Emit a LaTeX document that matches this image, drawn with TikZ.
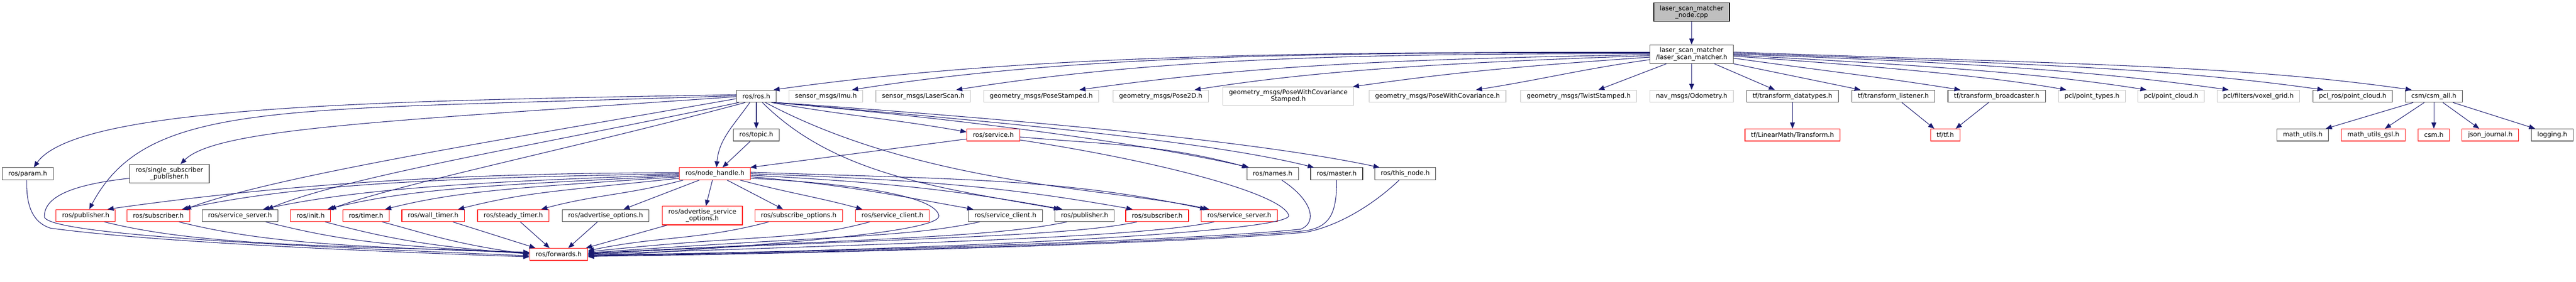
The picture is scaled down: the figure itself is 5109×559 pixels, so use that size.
\documentclass[tikz,border=0pt]{standalone}
\usepackage{fontspec}
\setmainfont{DejaVu Sans}
\usetikzlibrary{arrows.meta}
\definecolor{edgeblue}{HTML}{191970}
\definecolor{darkline}{HTML}{404040}
\definecolor{lightline}{HTML}{BFBFBF}
\newcommand{\dotfont}{\fontsize{6.35}{6.7}\selectfont}

\begin{document}
\begin{tikzpicture}[x=0.5pt,y=0.5pt,
  box/.style={draw, font=\dotfont, align=center, inner xsep=6pt,
    inner ysep=2.75pt, minimum height=12pt, line width=0.6pt},
  file/.style={box, draw=darkline},
  extfile/.style={box, draw=lightline},
  cutfile/.style={box, draw=red},
  mainfile/.style={box, draw=black, fill=lightline},
  incl/.style={edgeblue, line width=0.55pt, -{Triangle[length=6pt,width=4.75pt]}}]
  \useasboundingbox (0,0) rectangle (5109,-559);

  % files
  \node[mainfile] (root) at (3355,-24) {laser\_scan\_matcher\\\_node.cpp};
  \node[file] (lsm) at (3355,-107.5) {laser\_scan\_matcher\\/laser\_scan\_matcher.h};

  \node[file] (ros) at (1500,-191) {ros/ros.h};
  \node[extfile] (imu) at (1638,-191) {sensor\_msgs/Imu.h};
  \node[extfile] (laserscan) at (1831,-191) {sensor\_msgs/LaserScan.h};
  \node[extfile] (posestamped) at (2065,-191) {geometry\_msgs/PoseStamped.h};
  \node[extfile] (pose2d) at (2302,-191) {geometry\_msgs/Pose2D.h};
  \node[extfile] (pwcs) at (2555,-191) {geometry\_msgs/PoseWithCovariance\\Stamped.h};
  \node[extfile] (pwc) at (2851,-191) {geometry\_msgs/PoseWithCovariance.h};
  \node[extfile] (twist) at (3131,-191) {geometry\_msgs/TwistStamped.h};
  \node[extfile] (odom) at (3355,-191) {nav\_msgs/Odometry.h};
  \node[file] (tfdata) at (3555,-191) {tf/transform\_datatypes.h};
  \node[file] (tflisten) at (3755,-191) {tf/transform\_listener.h};
  \node[file] (tfbroad) at (3960,-191) {tf/transform\_broadcaster.h};
  \node[extfile] (pcltypes) at (4149,-191) {pcl/point\_types.h};
  \node[extfile] (pclcloud) at (4306,-191) {pcl/point\_cloud.h};
  \node[extfile] (voxel) at (4479,-191) {pcl/filters/voxel\_grid.h};
  \node[file] (pclros) at (4666,-191) {pcl\_ros/point\_cloud.h};
  \node[file] (csmall) at (4827,-191) {csm/csm\_all.h};

  \node[file] (topic) at (1500,-268) {ros/topic.h};
  \node[cutfile] (service) at (1970,-268) {ros/service.h};
  \node[cutfile] (tfmath) at (3555,-268) {tf/LinearMath/Transform.h};
  \node[cutfile] (tftf) at (3858,-268) {tf/tf.h};
  \node[file] (mathutils) at (4567,-268) {math\_utils.h};
  \node[cutfile] (mathgsl) at (4707,-268) {math\_utils\_gsl.h};
  \node[cutfile] (csm) at (4827,-268) {csm.h};
  \node[cutfile] (journal) at (4939,-268) {json\_journal.h};
  \node[file] (logging) at (5062,-268) {logging.h};

  \node[file] (param) at (55,-345) {ros/param.h};
  \node[file] (singlesub) at (336,-345) {ros/single\_subscriber\\\_publisher.h};
  \node[cutfile] (nodehandle) at (1418,-345) {ros/node\_handle.h};
  \node[file] (names) at (2524,-345) {ros/names.h};
  \node[file] (master) at (2651,-345) {ros/master.h};
  \node[file] (thisnode) at (2787,-345) {ros/this\_node.h};

  \node[cutfile] (pubA) at (170,-428) {ros/publisher.h};
  \node[cutfile] (subA) at (314,-428) {ros/subscriber.h};
  \node[file] (srvA) at (476,-428) {ros/service\_server.h};
  \node[cutfile] (init) at (616,-428) {ros/init.h};
  \node[cutfile] (timer) at (726,-428) {ros/timer.h};
  \node[cutfile] (walltimer) at (859,-428) {ros/wall\_timer.h};
  \node[cutfile] (steadytimer) at (1018,-428) {ros/steady\_timer.h};
  \node[file] (advopt) at (1201,-428) {ros/advertise\_options.h};
  \node[cutfile] (advsrvopt) at (1393,-428) {ros/advertise\_service\\\_options.h};
  \node[cutfile] (subopt) at (1584,-428) {ros/subscribe\_options.h};
  \node[cutfile] (cliA) at (1770,-428) {ros/service\_client.h};
  \node[file] (cliB) at (1994,-428) {ros/service\_client.h};
  \node[file] (pubB) at (2151,-428) {ros/publisher.h};
  \node[cutfile] (subB) at (2295,-428) {ros/subscriber.h};
  \node[cutfile] (srvB) at (2458,-428) {ros/service\_server.h};

  \node[cutfile] (forwards) at (1108,-505) {ros/forwards.h};

  % top two levels
  \draw[incl] (root) -- (lsm);
  \draw[incl] ([yshift=2pt]lsm.west) to[out=180,in=8,out distance=350pt,in distance=250pt] ([xshift=-3pt]ros.north east);
  \draw[incl] ([yshift=1.5pt]lsm.west) to[out=180,in=9,out distance=325pt,in distance=225pt] ([xshift=-11pt]imu.north east);
  \draw[incl] ([yshift=0.5pt]lsm.west) to[out=180,in=9,out distance=300pt,in distance=200pt] ([xshift=-14.5pt]laserscan.north east);
  \draw[incl] ([yshift=-0.5pt]lsm.west) to[out=181,in=8,out distance=250pt,in distance=175pt] ([xshift=-19.5pt]posestamped.north east);
  \draw[incl] ([yshift=-1.5pt]lsm.west) to[out=182,in=9,out distance=200pt,in distance=125pt] ([xshift=-14pt]pose2d.north east);
  \draw[incl] ([yshift=-3pt]lsm.west) to[out=184,in=8,out distance=150pt,in distance=90pt] ([xshift=-1pt]pwcs.north east);
  \draw[incl] ([yshift=-5.5pt]lsm.west) to[out=188,in=9] ([xshift=-30pt]pwc.north east);
  \draw[incl] ([xshift=-25pt]lsm.south) -- ([xshift=19.5pt]twist.north);
  \draw[incl] (lsm) -- (odom);
  \draw[incl] ([xshift=22.5pt]lsm.south) -- ([xshift=-17.5pt]tfdata.north);
  \draw[incl] (lsm.south east) -- ([xshift=-32.5pt]tflisten.north);
  \draw[incl] ([yshift=-4pt]lsm.east) to[out=-8,in=171] ([xshift=-36pt]tfbroad.north);
  \draw[incl] ([yshift=-2pt]lsm.east) to[out=-4,in=170,out distance=150pt,in distance=75pt] ([xshift=-25.5pt]pcltypes.north);
  \draw[incl] ([yshift=-1pt]lsm.east) to[out=-3,in=171,out distance=200pt,in distance=100pt] ([xshift=-24.5pt]pclcloud.north);
  \draw[incl] (lsm.east) to[out=-2,in=172,out distance=250pt,in distance=125pt] ([xshift=-29.5pt]voxel.north);
  \draw[incl] ([yshift=1pt]lsm.east) to[out=-2,in=172,out distance=300pt,in distance=150pt] ([xshift=-29pt]pclros.north);
  \draw[incl] ([yshift=2pt]lsm.east) to[out=-2,in=172,out distance=350pt,in distance=175pt] ([xshift=-22pt]csmall.north);

  % tf and csm
  \draw[incl] (tfdata) -- (tfmath);
  \draw[incl] ([xshift=8.5pt]tflisten.south) -- ([xshift=4pt]tftf.north west);
  \draw[incl] ([xshift=-8pt]tfbroad.south) -- ([xshift=-4.5pt]tftf.north east);
  \draw[incl] ([xshift=-20.5pt]csmall.south) -- ([xshift=-3pt]mathutils.north east);
  \draw[incl] ([xshift=-9.5pt]csmall.south) -- ([xshift=11.5pt]mathgsl.north);
  \draw[incl] (csmall) -- (csm);
  \draw[incl] ([xshift=9pt]csmall.south) -- ([xshift=-11pt]journal.north);
  \draw[incl] ([xshift=19pt]csmall.south) -- ([xshift=4pt]logging.north west);

  % ros/ros.h
  \draw[incl] ([yshift=1.5pt]ros.west) to[out=181,in=55,out distance=350pt,in distance=75pt] ([xshift=6pt]param.north);
  \draw[incl] ([yshift=0.5pt]ros.west) to[out=182,in=62,out distance=450pt,in distance=125pt] ([xshift=3.5pt]pubA.north);
  \draw[incl] ([yshift=-0.5pt]ros.west) to[out=184,in=45,out distance=350pt,in distance=50pt] ([xshift=11pt]singlesub.north);
  \draw[incl] ([yshift=-2.5pt]ros.west) to[out=190,in=20,out distance=225pt,in distance=100pt] ([xshift=-5pt]subA.north east);
  \draw[incl] ([xshift=2.5pt]ros.south west) to[out=192,in=22,out distance=200pt,in distance=90pt] ([xshift=-11pt]srvA.north east);
  \draw[incl] ([xshift=9pt]ros.south west) to[out=195,in=20,out distance=175pt,in distance=75pt] ([xshift=-1pt]init.north east);
  \draw[incl] (ros) -- (topic);
  \draw[incl] ([xshift=-6.5pt]ros.south) to[out=-125,in=85] ([xshift=1.5pt]nodehandle.north);
  \draw[incl] ([xshift=-5pt]ros.south east) to[out=-10,in=170] ([yshift=3pt]service.west);
  \draw[incl] ([xshift=-3pt]ros.south east) to[out=-5,in=167,out distance=200pt,in distance=100pt] ([xshift=2.5pt]names.north west);
  \draw[incl] ([xshift=-1.5pt]ros.south east) to[out=-5,in=166,out distance=225pt,in distance=110pt] ([xshift=3.5pt]master.north west);
  \draw[incl] (ros.south east) to[out=-4,in=168,out distance=250pt,in distance=125pt] ([xshift=5pt]thisnode.north west);
  \draw[incl] ([xshift=-14pt]ros.south east) to[out=-45,in=170,out distance=100pt,in distance=125pt] ([xshift=-24.5pt]pubB.north);
  \draw[incl] ([xshift=-11pt]ros.south east) to[out=-28,in=168,out distance=175pt,in distance=100pt] ([xshift=8pt]srvB.north west);

  % ros/topic.h and ros/service.h
  \draw[incl] ([xshift=-6pt]topic.south) -- ([xshift=7.5pt]nodehandle.north);
  \draw[incl] ([yshift=-4pt]service.west) -- ([xshift=-0.5pt]nodehandle.north east);
  \draw[incl] ([yshift=-2pt]service.east) to[out=-5,in=165] ([xshift=1.5pt]names.north west);
  \draw[incl] ([yshift=-5pt]service.east) .. controls (2300,-320) and (2545,-385) .. (2556,-428)
    .. controls (2560,-462) and (1800,-500) .. ([yshift=-0.5pt]forwards.east);

  % ros/node_handle.h
  \draw[incl] ([yshift=1pt]nodehandle.west) to[out=180,in=8,out distance=250pt,in distance=150pt] ([xshift=-8pt]pubA.north east);
  \draw[incl] (nodehandle.west) to[out=181,in=12,out distance=225pt,in distance=125pt] ([xshift=-8pt]subA.north east);
  \draw[incl] ([yshift=-1pt]nodehandle.west) to[out=182,in=12,out distance=200pt,in distance=100pt] ([xshift=-15pt]srvA.north east);
  \draw[incl] ([yshift=-2pt]nodehandle.west) to[out=183,in=14,out distance=175pt,in distance=90pt] ([xshift=-3.5pt]init.north east);
  \draw[incl] ([yshift=-3pt]nodehandle.west) to[out=184,in=14,out distance=150pt,in distance=80pt] ([xshift=-4.5pt]timer.north east);
  \draw[incl] ([yshift=-4.5pt]nodehandle.west) to[out=186,in=14,out distance=125pt,in distance=70pt] ([xshift=-6.5pt]walltimer.north east);
  \draw[incl] ([xshift=4pt]nodehandle.south west) to[out=195,in=15] ([xshift=-8pt]steadytimer.north east);
  \draw[incl] ([xshift=20pt]nodehandle.south west) -- ([xshift=-25.5pt]advopt.north east);
  \draw[incl] ([xshift=-2.5pt]nodehandle.south) -- ([xshift=3.5pt]advsrvopt.north);
  \draw[incl] ([xshift=12pt]nodehandle.south) -- ([xshift=-15.5pt]subopt.north);
  \draw[incl] ([xshift=-10.5pt]nodehandle.south east) to[out=-15,in=165] ([xshift=7pt]cliA.north west);
  \draw[incl] ([yshift=-3pt]nodehandle.east) to[out=-5,in=170,out distance=100pt,in distance=75pt] ([xshift=5pt]cliB.north west);
  \draw[incl] ([yshift=-1.5pt]nodehandle.east) to[out=-3,in=170,out distance=150pt,in distance=100pt] ([xshift=-22pt]pubB.north);
  \draw[incl] (nodehandle.east) to[out=-2,in=170,out distance=175pt,in distance=125pt] ([xshift=7pt]subB.north west);
  \draw[incl] ([yshift=1.5pt]nodehandle.east) to[out=-2,in=168,out distance=200pt,in distance=150pt] ([xshift=5pt]srvB.north west);
  \draw[incl] ([yshift=-4.5pt]nodehandle.east) .. controls (1700,-365) and (1855,-390) .. (1862,-428)
    .. controls (1868,-462) and (1500,-488) .. ([yshift=-2.5pt]forwards.east);

  % into ros/forwards.h
  \draw[incl] ([xshift=-1pt]param.south) .. controls (52,-400) and (60,-440) .. (100,-453)
    .. controls (300,-480) and (700,-498) .. ([yshift=-2.5pt]forwards.west);
  \draw[incl] ([yshift=-4.5pt]singlesub.west) .. controls (130,-368) and (88,-395) .. (88,-430)
    .. controls (90,-470) and (700,-493) .. ([yshift=-1.5pt]forwards.west);
  \draw[incl] ([xshift=18.5pt]pubA.south) to[out=-14,in=178,out distance=100pt,in distance=200pt] ([yshift=2pt]forwards.west);
  \draw[incl] ([xshift=20.5pt]subA.south) to[out=-14,in=178,out distance=90pt,in distance=175pt] ([yshift=1.5pt]forwards.west);
  \draw[incl] ([xshift=25.5pt]srvA.south) to[out=-14,in=177,out distance=75pt,in distance=150pt] ([yshift=1pt]forwards.west);
  \draw[incl] ([xshift=14.5pt]init.south) to[out=-15,in=176,out distance=60pt,in distance=100pt] ([yshift=0.5pt]forwards.west);
  \draw[incl] ([xshift=16pt]timer.south) to[out=-15,in=172,out distance=50pt,in distance=75pt] (forwards.west);
  \draw[incl] ([xshift=19.5pt]walltimer.south) -- ([xshift=6pt]forwards.north west);
  \draw[incl] ([xshift=7pt]steadytimer.south) -- ([xshift=-9pt]forwards.north);
  \draw[incl] ([xshift=-8pt]advopt.south) -- ([xshift=9.5pt]forwards.north);
  \draw[incl] ([xshift=5pt]advsrvopt.south west) -- ([xshift=-2pt]forwards.north east);
  \draw[incl] ([xshift=14pt]subopt.south west) to[out=195,in=12] ([yshift=3.5pt]forwards.east);
  \draw[incl] ([xshift=-22.5pt]cliA.south) to[out=195,in=6,out distance=75pt,in distance=175pt] ([yshift=2.5pt]forwards.east);
  \draw[incl] ([xshift=-25.5pt]cliB.south) to[out=192,in=4,out distance=75pt,in distance=250pt] ([yshift=1.5pt]forwards.east);
  \draw[incl] ([xshift=-17.5pt]pubB.south) to[out=192,in=3,out distance=75pt,in distance=275pt] ([yshift=1pt]forwards.east);
  \draw[incl] ([xshift=-20pt]subB.south) to[out=192,in=3,out distance=75pt,in distance=300pt] ([yshift=0.5pt]forwards.east);
  \draw[incl] ([xshift=-25pt]srvB.south) to[out=192,in=2,out distance=75pt,in distance=325pt] (forwards.east);
  \draw[incl] ([xshift=9pt]names.south) .. controls (2600,-395) and (2615,-440) .. (2580,-455)
    .. controls (2400,-475) and (1700,-500) .. ([yshift=-1pt]forwards.east);
  \draw[incl] (master.south) .. controls (2651,-420) and (2640,-450) .. (2590,-458)
    .. controls (2400,-478) and (1700,-502) .. ([yshift=-1.5pt]forwards.east);
  \draw[incl] ([xshift=-6pt]thisnode.south) .. controls (2720,-410) and (2650,-450) .. (2590,-461)
    .. controls (2400,-480) and (1700,-503) .. ([yshift=-2pt]forwards.east);

\end{tikzpicture}
\end{document}
